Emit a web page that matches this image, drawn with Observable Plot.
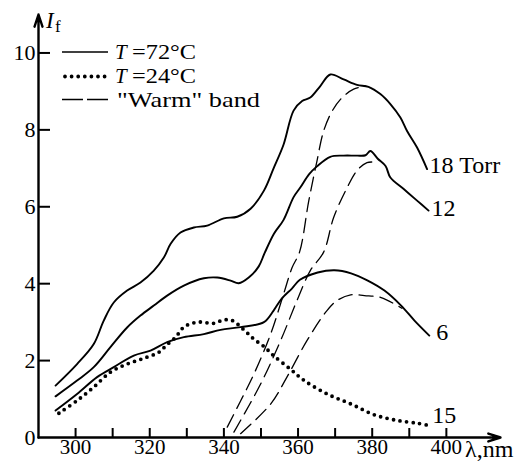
<!DOCTYPE html>
<html>
<head>
<meta charset="utf-8">
<script src="https://cdn.jsdelivr.net/npm/d3@7"></script>
<script src="https://cdn.jsdelivr.net/npm/@observablehq/plot@0.6"></script>
<style>
  html, body { margin: 0; padding: 0; background: #fff; }
  svg { display: block; }
  svg text { font-family: "Liberation Serif", "Times New Roman", "DejaVu Serif", serif !important; }
</style>
</head>
<body>
<div id="chart"></div>
<script>
// ---- data (wavelength nm, intensity) ----
const xDomain = [290, 414.6];
const yDomain = [0, 11];
const xTickLabels = [300, 320, 340, 360, 380, 400];
const xTicksAll = [300, 310, 320, 330, 340, 350, 360, 370, 380, 390, 400];
const yTickLabels = [0, 2, 4, 6, 8, 10];
const yTicks = [2, 4, 6, 8, 10];

const torr18 = [
  [294.6,1.35],[300.4,1.91],[304.9,2.43],[307.6,3.04],[310.3,3.51],[313.9,3.82],
  [317.5,4.03],[321.1,4.34],[323.8,4.68],[325.6,5.03],[328.3,5.33],[331.9,5.46],
  [335.5,5.51],[340.0,5.70],[343.6,5.74],[347.2,5.95],[350.8,6.42],[353.4,7.00],
  [356.1,7.62],[358.8,8.50],[361.1,8.75],[363.3,8.84],[366.0,9.14],[368.7,9.44],
  [372.3,9.31],[375.9,9.17],[379.0,9.12],[382.2,8.93],[384.9,8.67],[387.6,8.32],
  [389.4,7.97],[392.1,7.54],[394.8,6.98]
];
const torr12 = [
  [294.6,1.07],[300.4,1.48],[304.9,1.83],[309.4,2.35],[313.9,2.86],[317.5,3.17],
  [321.1,3.43],[324.7,3.69],[329.2,3.95],[334.6,4.14],[338.2,4.16],[341.8,4.08],
  [344.0,4.01],[346.7,4.16],[349.4,4.45],[351.0,4.80],[353.5,5.30],[356.1,5.66],
  [358.8,6.25],[360.6,6.50],[363.0,6.85],[365.1,7.05],[368.7,7.30],[372.3,7.33],
  [375.9,7.33],[378.2,7.34],[379.5,7.45],[381.5,7.25],[383.6,7.06],[384.9,6.76],
  [388.5,6.46],[392.1,6.16],[395.2,5.90]
];
const torr6 = [
  [294.6,0.70],[300.4,1.13],[305.8,1.57],[310.3,1.83],[315.7,2.13],[320.2,2.26],
  [324.7,2.48],[329.2,2.61],[334.6,2.69],[339.1,2.80],[344.5,2.87],[350.8,3.00],
  [353.4,3.30],[355.5,3.60],[358.4,3.88],[360.5,4.10],[365.3,4.29],[369.8,4.35],
  [374.3,4.27],[378.8,4.08],[383.3,3.82],[387.8,3.43],[391.4,3.04],[395.4,2.65]
];
const torr15cold = [
  [295.5,0.63],[300.4,0.96],[304.9,1.31],[309.4,1.70],[313.9,1.91],[318.4,2.06],
  [322.5,2.22],[324.5,2.40],[327.0,2.61],[329.2,2.87],[332.8,3.00],[337.3,2.97],
  [340.0,3.06],[342.3,3.04],[345.4,2.80],[348.1,2.56],[351.0,2.35],[353.4,2.13],
  [357.9,1.78],[361.7,1.48],[367.9,1.13],[374.3,0.87],[380.6,0.59],[386.9,0.44],
  [392.3,0.37],[395.4,0.31]
];
const warm18 = [
  [340.9,0.27],[344.5,0.95],[348.1,1.65],[352.6,2.69],[356.1,3.73],[358.4,4.42],
  [360.4,4.82],[362.9,6.16],[365.1,7.19],[366.9,7.97],[369.2,8.49],[371.9,8.84],
  [375.0,9.06],[378.2,9.14]
];
const warm12 = [
  [342.7,0.14],[349.9,1.39],[355.3,2.52],[359.7,3.56],[363.3,4.34],[366.9,4.82],
  [369.6,5.72],[373.2,6.49],[375.9,6.94],[378.6,7.15],[381.7,7.15]
];
const warm6 = [
  [344.5,0.10],[352.6,0.87],[357.0,1.57],[362.4,2.52],[367.8,3.30],[370.5,3.56],
  [374.2,3.71],[377.9,3.69],[382.4,3.64],[388.0,3.36]
];
const curveLabels = ["18 Torr", "12", "6", "15"];
const legendVars = ["T", "T", ""];
const legendLabels = ["=72°C", "=24°C", "\"Warm\" band"];

// ---- build ----
const solidSeries = [torr18, torr12, torr6];
const warmSeries = [warm18, warm12, warm6];
const labelSeries = [torr18, torr12, torr6, torr15cold];
const labelOffsets = [[2.5, -4], [3, -2], [7, -3], [3, -10]];

const font = "Liberation Serif, Times New Roman, DejaVu Serif, serif";
const axisArrows = [
  {x1: xDomain[0], y1: yDomain[0], x2: xDomain[1], y2: yDomain[0]},
  {x1: xDomain[0], y1: yDomain[0], x2: xDomain[0], y2: yDomain[1]}
];

const W = 528, H = 461, mL = 38, mR = 28, mT = 14, mB = 24;
const frameW = W - mL - mR, frameH = H - mT - mB;

const chart = Plot.plot({
  width: W, height: H,
  marginLeft: mL, marginRight: mR, marginTop: mT, marginBottom: mB,
  x: {domain: xDomain},
  y: {domain: yDomain},
  style: {fontFamily: font, fontSize: "21px", background: "#fff", color: "#000", overflow: "visible"},
  marks: [
    Plot.axisX(xTickLabels, {tickSize: 0, tickPadding: 2, fontSize: 21, label: null, fill: "#000"}),
    Plot.axisY(yTickLabels, {tickSize: 0, tickPadding: 3, fontSize: 22, label: null, fill: "#000"}),
    Plot.tickX(xTicksAll, {x: d => d, insetTop: frameH - 9, strokeWidth: 2, stroke: "#000"}),
    Plot.tickY(yTicks, {y: d => d, insetRight: frameW - 12, strokeWidth: 2, stroke: "#000"}),
    ...solidSeries.map(s => Plot.line(s, {x: d => d[0], y: d => d[1], curve: "catmull-rom", stroke: "#000", strokeWidth: 1.9})),
    ...warmSeries.map(s => Plot.line(s, {x: d => d[0], y: d => d[1], curve: "catmull-rom", stroke: "#000", strokeWidth: 1.3, strokeDasharray: "14 7"})),
    Plot.line(torr15cold, {x: d => d[0], y: d => d[1], curve: "catmull-rom", stroke: "#000", strokeWidth: 3.8, strokeLinecap: "round", strokeDasharray: "0 6.6"}),
    ...labelSeries.map((s, i) => Plot.text([s[s.length - 1]], {
      x: d => d[0], y: d => d[1], text: () => curveLabels[i],
      textAnchor: "start", fontSize: 24, fill: "#000", dx: labelOffsets[i][0], dy: labelOffsets[i][1]
    })),
    Plot.arrow(axisArrows, {x1: "x1", y1: "y1", x2: "x2", y2: "y2", stroke: "#000", strokeWidth: 2.4, headLength: 8, headAngle: 36})
  ]
});

document.getElementById("chart").appendChild(chart);
const svg = d3.select(chart);

// legend (inside plot, top-left)
const leg = svg.append("g").attr("font-family", font).attr("font-size", 21)
  .attr("fill", "#000").attr("text-anchor", "start");
const legRows = [
  {y: 52, dash: null, width: 1.6, base: 58.5, len: 64},
  {y: 76.5, dash: "0 6.6", width: 3.8, base: 82.5, len: 64},
  {y: 99.5, dash: "21 4", width: 1.4, base: 106.5, len: 143}
];
legRows.forEach((r, i) => {
  leg.append("line").attr("x1", i === 1 ? 65 : 62).attr("x2", i === 2 ? 110 : 108)
    .attr("y1", r.y).attr("y2", r.y)
    .attr("stroke", "#000").attr("stroke-width", r.width)
    .attr("stroke-linecap", i === 1 ? "round" : "butt")
    .attr("stroke-dasharray", r.dash);
  if (legendVars[i]) {
    leg.append("text").attr("x", 115).attr("y", r.base).attr("font-style", "italic").text(legendVars[i]);
    leg.append("text").attr("x", 132).attr("y", r.base)
      .attr("textLength", r.len).attr("lengthAdjust", "spacingAndGlyphs").text(legendLabels[i]);
  } else {
    leg.append("text").attr("x", 117).attr("y", r.base)
      .attr("textLength", r.len).attr("lengthAdjust", "spacingAndGlyphs").text(legendLabels[i]);
  }
});

// axis titles
const ax = svg.append("g").attr("font-family", font).attr("fill", "#000").attr("text-anchor", "start");
ax.append("text").attr("x", 46).attr("y", 28).attr("font-size", 23).attr("font-style", "italic").text("I");
ax.append("text").attr("x", 55).attr("y", 32).attr("font-size", 17).text("f");
ax.append("text").attr("x", 465).attr("y", 457).attr("font-size", 24).text("λ,nm");
</script>
</body>
</html>
